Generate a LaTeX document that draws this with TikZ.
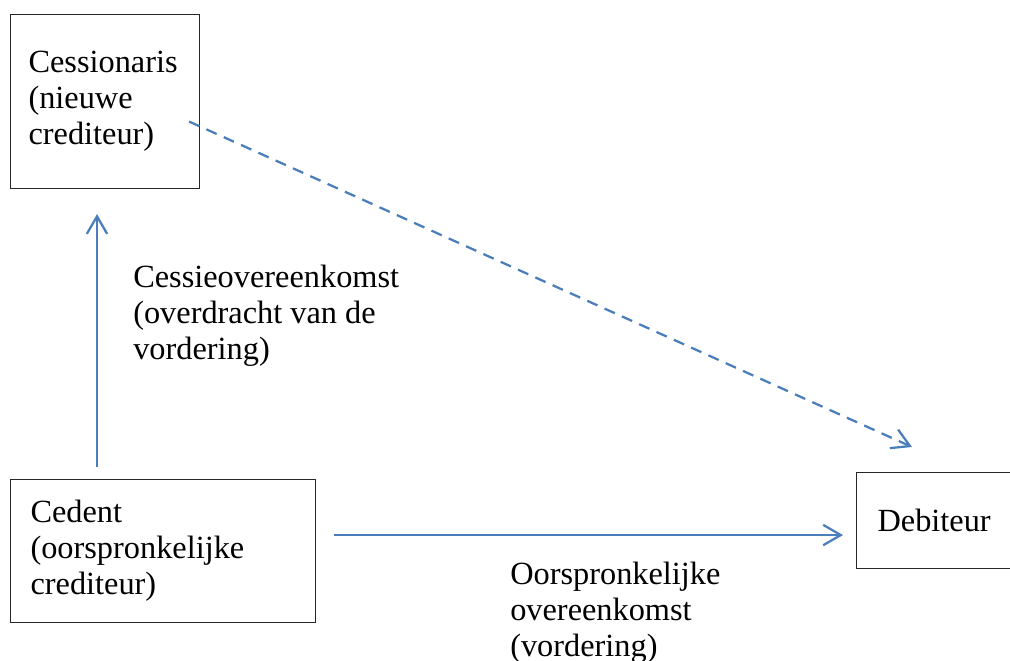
\documentclass[tikz,border=0pt]{standalone}
\usepackage{fontspec}
\setmainfont{Liberation Serif}
\usetikzlibrary{arrows.meta,calc}

\definecolor{linkblue}{RGB}{74,126,187}

\begin{document}
\begin{tikzpicture}[x=0.025cm, y=-0.025cm, >={Straight Barb[length=12.5pt,width=14.5pt]},
    party/.style={rectangle, draw=black!85, line width=0.75pt, anchor=north west, align=left,
        inner ysep=0pt, font=\fontsize{23}{25.6}\selectfont},
    note/.style={anchor=north west, align=left, inner sep=0pt, font=\fontsize{23}{25.6}\selectfont},
    link/.style={->, linkblue, line width=1.6pt}]

    % page size of the reference
    \clip (0,0) rectangle (1010,661);

    % the three parties
    \node[party, minimum width=4.725cm, minimum height=4.35cm, inner xsep=0.45cm, text width=3.825cm]
        (cessionaris) at (10,14) {Cessionaris\\(nieuwe\\crediteur)};
    \node[party, minimum width=7.625cm, minimum height=3.575cm, inner xsep=0.5cm, text width=6.625cm]
        (cedent) at (10,479) {Cedent\\(oorspronkelijke\\crediteur)};
    \node[party, minimum width=5cm, minimum height=2.4cm, inner xsep=0.525cm, text width=3.95cm]
        (debiteur) at (856,472) {Debiteur};

    % labels next to the arrows
    \node[note] (cessie) at (133,265) {Cessieovereenkomst\\(overdracht van de\\vordering)};
    \node[note] (oorspr) at (510,562) {Oorspronkelijke\\overeenkomst\\(vordering)};

    % arrows between the parties
    \draw[link] ($(cedent.north west)+(87,-12)$) -- ($(cessionaris.south west)+(87,25)$);
    \draw[link, dash pattern=on 8pt off 5.5pt] ($(cessionaris.east)+(-11,20)$) -- ($(debiteur.north west)+(56,-25)$);
    \draw[link] ($(cedent.east)+(18,-16)$) coordinate (h) -- ($(h -| debiteur.west)+(-13,0)$);
\end{tikzpicture}
\end{document}
